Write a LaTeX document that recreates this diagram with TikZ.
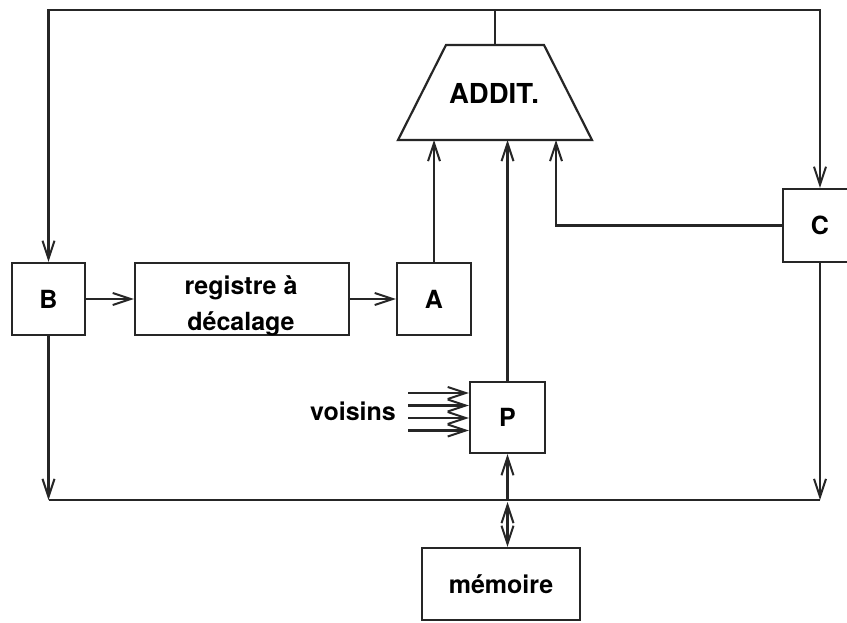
\documentclass[tikz,border=0pt]{standalone}
\usepackage{fontspec}
\setmainfont{TeX Gyre Heros}
\usetikzlibrary{arrows.meta,calc}
\begin{document}
\begin{tikzpicture}[x=1pt,y=-1pt,
  line width=2.2pt, draw=black!85,
  arr/.style={-{Straight Barb[length=18pt,width=12pt,line width=2pt]}},
  arrr/.style={{Straight Barb[length=18pt,width=12pt,line width=2pt]}-{Straight Barb[length=18pt,width=12pt,line width=2pt]}},
  box/.style={draw=black!85, line width=2.2pt, fill=white, inner sep=0pt,
    font=\fontsize{25}{36}\selectfont\bfseries, text=black},
  lbl/.style={inner sep=0pt, font=\fontsize{25}{36}\selectfont\bfseries, text=black}]
\useasboundingbox (0,0) rectangle (847,623);
\fill[white] (0,0) rectangle (847,623);
% adder trapezoid
\coordinate (adTL) at (446,45);
\coordinate (adTR) at (544,45);
\coordinate (adBR) at (592,140);
\coordinate (adBL) at (398,140);
\draw[line join=miter] (adTL) -- (adTR) -- (adBR) -- (adBL) -- cycle;
\node[lbl, font=\fontsize{27.5}{30}\selectfont\bfseries] (add) at (494,93) {ADDIT.};
\coordinate (adtop) at (495,45);
\coordinate (top) at (495,10);
\coordinate (in3) at (556,140);
% boxes
\node[box, minimum width=73pt, minimum height=72pt] (B) at (48.5,299) {B};
\node[box, minimum width=214pt, minimum height=72pt, align=center] (R) at (242,299) {};
\node[lbl, align=center] (Rt) at (241,306) {registre à\\décalage};
\node[box, minimum width=74pt, minimum height=72pt] (A) at (434,299) {A};
\node[box, minimum width=75pt, minimum height=71pt] (P) at (507.5,417.5) {P};
\node[box, minimum width=74pt, minimum height=73pt] (C) at (820,225.5) {C};
\node[box, minimum width=158pt, minimum height=72pt] (M) at (501,584) {mémoire};
\node[lbl] (V) at (353,411) {voisins};
% bus coordinates
\coordinate (busL) at (48.5,500);
\coordinate (busR) at (820,500);
% top feedback
\draw (adtop) -- (top);
\draw[arr] (top) -| (B.north);
\draw[arr] (top) -| (C.north);
% chain
\draw[arr] (B.east) -- (R.west);
\draw[arr] (R.east) -- (A.west);
\draw[arr] (A.north) -- (A.north |- adBL);
\draw[arr] (P.north) -- (P.north |- adBL);
\draw[arr] (C.west) -| (in3);
% bus
\draw[arr] (B.south) -- (busL);
\draw[arr] (C.south) -- (busR);
\draw (busL) -- (busR);
\draw[arr] (P.south |- busL) -- (P.south);
\draw[arrr] ($(P.south |- busL)+(0,2)$) -- (P.south |- M.north);
% voisins
\foreach \yy/\nm in {393/v1,405.5/v2,418/v3,430.5/v4}{
  \coordinate (\nm) at (408,\yy);
  \draw[arr] (\nm) -- (\nm -| P.west);
}
\end{tikzpicture}
\end{document}
